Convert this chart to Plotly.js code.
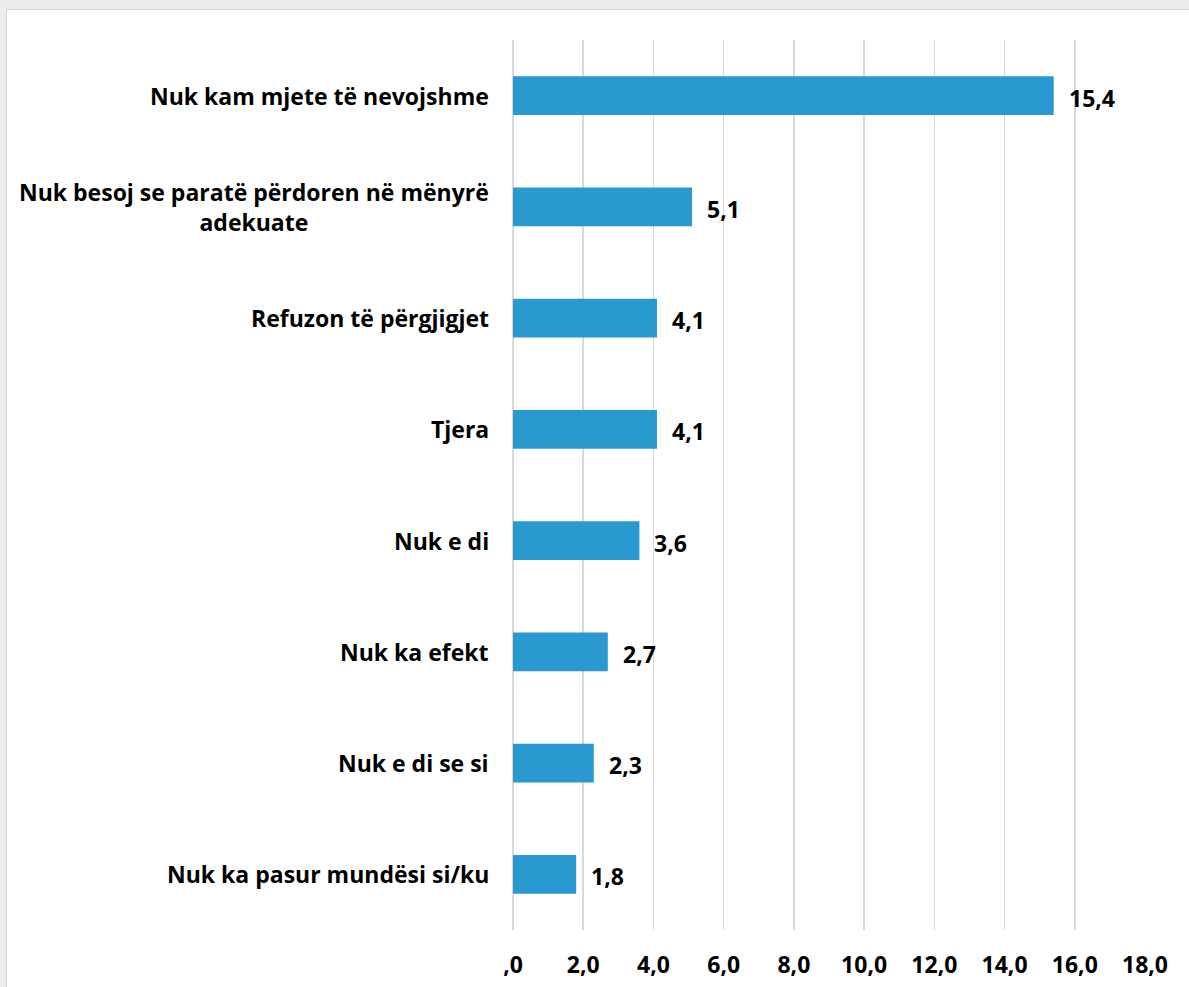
<!DOCTYPE html>
<html>
<head>
<meta charset="utf-8">
<script src="https://cdn.plot.ly/plotly-3.0.1.min.js"></script>
<style>
  html, body { margin: 0; padding: 0; background: #EDEDED; width: 1189px; height: 987px; overflow: hidden; }
  #chart { position: absolute; left: 6px; top: 9px; width: 1183px; height: 978px; background: #fff; border-left: 1px solid #D6D6D6; border-top: 1px solid #D6D6D6; box-sizing: border-box; }
</style>
</head>
<body>
<div id="chart"></div>
<script>
const categories = [
  "Nuk kam mjete të nevojshme",
  "Nuk besoj se paratë përdoren në mënyrë<br>adekuate",
  "Refuzon të përgjigjet",
  "Tjera",
  "Nuk e di",
  "Nuk ka efekt",
  "Nuk e di se si",
  "Nuk ka pasur mundësi si/ku"
];
const values = [15.4, 5.1, 4.1, 4.1, 3.6, 2.7, 2.3, 1.8];
const valueLabels = ["15,4", "5,1", "4,1", "4,1", "3,6", "2,7", "2,3", "1,8"];
const tickVals = [0, 2, 4, 6, 8, 10, 12, 14, 16, 18];
const tickLabels = [",0", "2,0", "4,0", "6,0", "8,0", "10,0", "12,0", "14,0", "16,0", "18,0"];

const FONT = "'Open Sans', Lato, sans-serif";
const FSIZE = 23;

const trace = {
  type: "bar",
  orientation: "h",
  x: values,
  y: categories,
  marker: { color: "#2A99D0" },
  hoverinfo: "none"
};

const annotations = [];
categories.forEach((c, i) => {
  annotations.push({
    xref: "paper", yref: "y", x: 0, y: c,
    xanchor: "right", yanchor: "middle", xshift: -22,
    text: c, showarrow: false, align: "center",
    font: { family: FONT, size: FSIZE, color: "#000", weight: "bold" }
  });
  annotations.push({
    xref: "x", yref: "y", x: values[i], y: c,
    xanchor: "left", yanchor: "middle", xshift: 13, yshift: -2,
    text: valueLabels[i], showarrow: false,
    font: { family: FONT, size: FSIZE, color: "#000", weight: "bold" }
  });
});

const layout = {
  width: 1183, height: 978,
  margin: { l: 506, r: 45, t: 30, b: 58 },
  paper_bgcolor: "#fff",
  plot_bgcolor: "#fff",
  showlegend: false,
  bargap: 0.65,
  xaxis: {
    range: [0, 18],
    tickvals: tickVals,
    ticktext: tickLabels,
    showgrid: true,
    gridcolor: "#D9D9D9",
    gridwidth: 1.5,
    zeroline: true,
    zerolinecolor: "#D9D9D9",
    zerolinewidth: 1.5,
    showline: false,
    ticks: "",
    ticklabelstandoff: 19,
    tickfont: { family: FONT, size: FSIZE, color: "#000", weight: "bold" },
    fixedrange: true
  },
  yaxis: {
    autorange: "reversed",
    showticklabels: false,
    showgrid: false,
    zeroline: false,
    showline: false,
    ticks: "",
    fixedrange: true
  },
  annotations: annotations
};

Plotly.newPlot("chart", [trace], layout, { displayModeBar: false, staticPlot: true });
</script>
</body>
</html>
